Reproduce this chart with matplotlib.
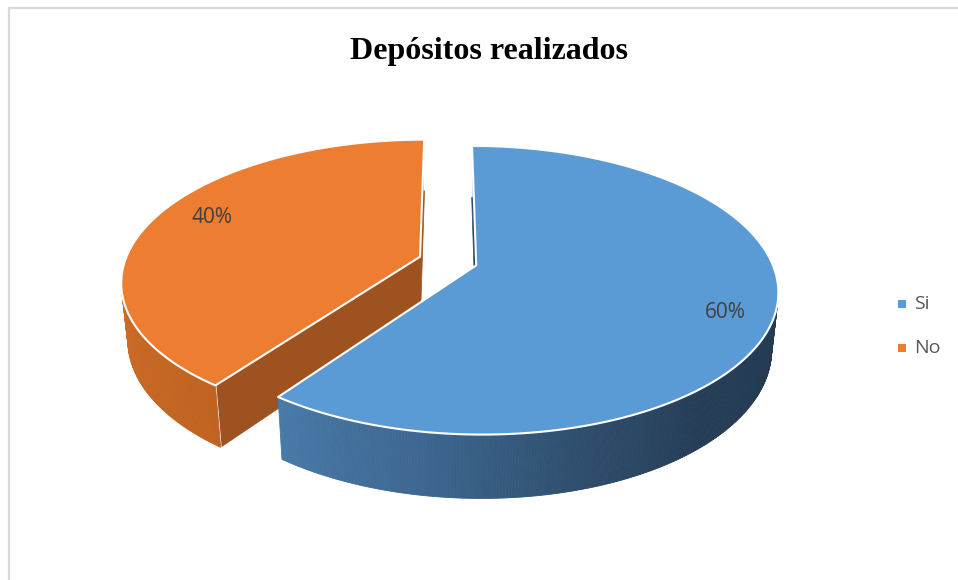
import numpy as np
from matplotlib import pyplot as plt
from matplotlib.patches import Polygon

# datos del grafico
labels = ['Si', 'No']
values = [60, 40]
title = 'Depósitos realizados'

top_colors = ['#5B9BD5', '#ED7D31']
cut_colors = ['#2B4866', '#9D5220']
# sombreado del costado: (angulo, rgb)
side_stops = [
    [(90, (35, 58, 80)), (140, (37, 61, 86)), (165, (47, 79, 110)),
     (190, (61, 103, 145)), (216, (72, 122, 168))],
    [(216, (192, 98, 32)), (245, (200, 105, 38)), (275, (208, 112, 45))],
]
label_r = [0.85, 0.81]

# camara / proyeccion
cx, cy = 448., 261.
phi = np.radians(28.)
sp, cp = np.sin(phi), np.cos(phi)
D = 5.14
F = 1517.
h = 0.22
explode = 0.10
cam = np.array([0., -D * cp, D * sp])


def project(x, y, z):
    d = D + y * cp - z * sp
    return cx + F * x / d, cy - F * (y * sp + z * cp) / d


def rim(a, off, z, r=1.):
    a = np.radians(a)
    return r * np.sin(a) + off[0], r * np.cos(a) + off[1], z + 0. * a


def side_color(k, a):
    st = side_stops[k]
    ang = [s[0] for s in st]
    rgb = [np.interp(a, ang, [s[1][j] for s in st]) / 255. for j in range(3)]
    return tuple(rgb)


def visible(n, p):
    return np.dot(n, cam - np.asarray(p)) > 0


fig = plt.figure(figsize=(9.58, 5.80), dpi=100)
ax = fig.add_axes([0, 0, 1, 1])
ax.set_xlim(0, 958)
ax.set_ylim(580, 0)
ax.axis('off')

# borde del area del grafico
ax.plot([9.5, 9.5, 958], [580, 7.5, 7.5], color='#D9D9D9', lw=1.6)

fracs = np.array(values, dtype=float) / np.sum(values)
ends = np.cumsum(fracs) * 360.
starts = ends - fracs * 360.

slices = []
for k in range(len(values)):
    a0, a1 = starts[k], ends[k]
    mid = np.radians((a0 + a1) / 2.)
    off = (explode * np.sin(mid), explode * np.cos(mid))
    depth = D + off[1] * cp
    slices.append((depth, k, a0, a1, off))
slices.sort(reverse=True)

zo = 2
label_pos = {}
for depth, k, a0, a1, off in slices:
    apex_t = (off[0], off[1], 0.)
    apex_b = (off[0], off[1], -h)

    # caras radiales
    for a, sgn in ((a0, -90.), (a1, 90.)):
        n = np.array([np.sin(np.radians(a + sgn)), np.cos(np.radians(a + sgn)), 0.])
        if not visible(n, apex_t):
            continue
        rt = rim(a, off, 0.)
        rb = rim(a, off, -h)
        pts = [project(*apex_t), project(*rt), project(*rb), project(*apex_b)]
        ax.add_patch(Polygon(pts, closed=True, fc=cut_colors[k], ec=cut_colors[k],
                             lw=0.5, zorder=zo))
        ax.plot(*zip(project(*rt), project(*rb)), color='white', lw=1.5, zorder=zo + 1)
        zo += 2

    # costado exterior
    aa = np.linspace(a0, a1, int(a1 - a0) * 2 + 1)
    for i in range(len(aa) - 1):
        am = (aa[i] + aa[i + 1]) / 2.
        n = np.array([np.sin(np.radians(am)), np.cos(np.radians(am)), 0.])
        if not visible(n, rim(am, off, 0.)):
            continue
        p1 = project(*rim(aa[i], off, 0.))
        p2 = project(*rim(aa[i + 1], off, 0.))
        p3 = project(*rim(aa[i + 1], off, -h))
        p4 = project(*rim(aa[i], off, -h))
        c = side_color(k, am)
        ax.add_patch(Polygon([p1, p2, p3, p4], closed=True, fc=c, ec=c, lw=0.6, zorder=zo))
    zo += 1

    # cara superior
    aa = np.linspace(a0, a1, 300)
    px, py = project(*rim(aa, off, 0.))
    ax0, ay0 = project(*apex_t)
    pts = np.column_stack([np.r_[ax0, px], np.r_[ay0, py]])
    ax.add_patch(Polygon(pts, closed=True, fc=top_colors[k], ec='white', lw=1.5,
                         joinstyle='round', zorder=zo))
    zo += 1

    am = (a0 + a1) / 2. + 4.
    label_pos[k] = project(*rim(am, off, 0., r=label_r[k]))

for k in range(len(values)):
    lx, ly = label_pos[k]
    ax.text(lx, ly, '%d%%' % values[k], fontsize=15, color='#404040',
            family='Open Sans', ha='center', va='center', zorder=zo)

ax.text(489, 51, title, fontsize=23, fontweight='bold', family='Liberation Serif',
        ha='center', va='center', color='black')

# leyenda
for k in range(len(labels)):
    ly = 304 + k * 44
    ax.scatter([902.5], [ly], marker='s', s=26, color=top_colors[k], lw=0)
    ax.text(914, ly, labels[k], fontsize=14, color='#595959', family='Open Sans',
            ha='left', va='center')

fig.savefig('out.png', dpi=100)
